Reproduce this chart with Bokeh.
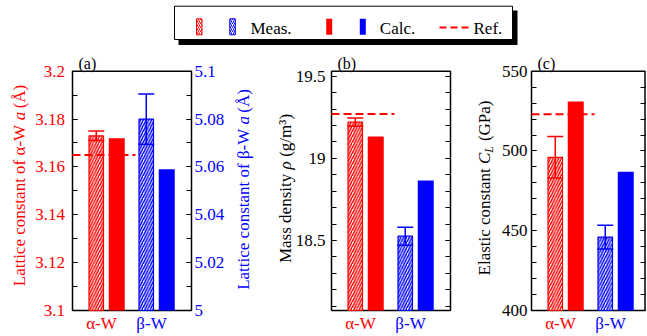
import math
from bokeh.plotting import figure
from bokeh.models import (Range1d, LinearAxis, FixedTicker, CustomJSTickFormatter, Whisker,
                          TeeHead, ColumnDataSource)
from bokeh.core.properties import value
from bokeh.embed import file_html
from bokeh.resources import INLINE

# ---------------- data ----------------
phases = ["α-W", "β-W"]
phase_colors = ["#ff0000", "#0000ff"]

lattice_meas = [3.173, 5.080]     # alpha on left axis, beta on right axis
lattice_err = [0.002, 0.0105]
lattice_calc = [3.172, 5.059]
lattice_ref = 3.165

density_meas = [19.22, 18.526]
density_err = [0.025, 0.055]
density_calc = [19.133, 18.865]
density_ref = 19.27

elastic_meas = [496, 446]
elastic_err = [13, 7.5]
elastic_calc = [531, 487]
elastic_ref = 523

lat_alpha_ticks = [3.1, 3.12, 3.14, 3.16, 3.18, 3.2]
lat_alpha_labels = ["3.1", "3.12", "3.14", "3.16", "3.18", "3.2"]
lat_beta_ticks = [5.0, 5.02, 5.04, 5.06, 5.08, 5.1]
lat_beta_labels = ["5", "5.02", "5.04", "5.06", "5.08", "5.1"]
density_ticks = [18.5, 19.0, 19.5]
density_labels = ["18.5", "19", "19.5"]
elastic_ticks = [400, 450, 500, 550]
elastic_labels = ["400", "450", "500", "550"]

legend_labels = ["Meas.", "Calc.", "Ref."]

# ---------------- style / layout ----------------
W, H = 647, 336
FONT = "Liberation Serif"
TICK_FS = "17px"
LAB_FS = 17
PX_PER_X = 50.0
X0 = -0.68
DODGE = 0.205
REF_END = 0.58
RED, BLUE = phase_colors

TIMES = {' ': .25, '(': .333, ')': .333, '/': .278, '-': .333, '.': .25, '³': .30,
         'A': .722, 'C': .667, 'E': .611, 'G': .722, 'L': .611, 'M': .889, 'P': .556,
         'W': .944, 'Å': .722, 'a': .444, 'c': .444, 'd': .5, 'e': .444, 'f': .333,
         'g': .5, 'i': .278, 'l': .278, 'm': .778, 'n': .5, 'o': .5, 's': .389,
         't': .278, 'y': .5, 'α': .55, 'β': .5, 'ρ': .5}


def tw(s, size):
    return sum(TIMES.get(ch, .5) for ch in s) * size


p = figure(width=W, height=H, x_range=Range1d(0, W), y_range=Range1d(H, 0),
           x_axis_type=None, y_axis_type=None, output_backend="svg", toolbar_location=None,
           min_border=0, outline_line_color=None)
p.background_fill_color = "white"
p.border_fill_color = "white"
p.xgrid.visible = False
p.ygrid.visible = False


def rot_label(cx, cy, pieces, color):
    total = sum(tw(t, s) for t, it, s, dx in pieces)
    y = cy + total / 2
    for t, it, s, dx in pieces:
        lead = len(t) - len(t.lstrip())
        p.text(x=[cx + dx], y=[y - lead * .25 * s], text=[t.strip()], angle=math.pi / 2,
               text_align="left", text_baseline="middle", text_font=value(FONT),
               text_font_style=value("italic" if it else "normal"),
               text_font_size=value(f"{s}px"), text_color=color)
        y -= tw(t, s)


def make_ranges(key, px_left, py_top, py_bot, v_top, v_bot, extra=None):
    p.extra_x_ranges[key + "x"] = Range1d(X0 - px_left / PX_PER_X, X0 + (W - px_left) / PX_PER_X)
    upp = (v_top - v_bot) / (py_bot - py_top)
    p.extra_y_ranges[key + "y"] = Range1d(v_bot - (H - py_bot) * upp, v_top + py_top * upp)
    if extra:
        t2, b2 = extra
        upp2 = (t2 - b2) / (py_bot - py_top)
        p.extra_y_ranges[key + "y2"] = Range1d(b2 - (H - py_bot) * upp2, t2 + py_top * upp2)


def yaxis(key, yname, side, loc, ticks, minor, labels=None, color="black", standoff=0):
    # ticks drawn by a Bokeh axis (pointing inwards); labels drawn as serif text at the ticks
    ax = LinearAxis(x_range_name=key + "x", y_range_name=yname, fixed_location=loc,
                    ticker=FixedTicker(ticks=ticks, minor_ticks=minor),
                    formatter=CustomJSTickFormatter(code="return ''"),
                    axis_line_color=None, major_tick_in=5, major_tick_out=0,
                    minor_tick_in=5, minor_tick_out=0,
                    major_tick_line_color="black", minor_tick_line_color="black",
                    major_tick_line_width=1, minor_tick_line_width=1,
                    major_label_standoff=0)
    p.add_layout(ax, side)
    if labels is not None:
        left = side == "left"
        p.text(x=[loc] * len(ticks), y=ticks, text=labels,
               x_offset=-standoff if left else standoff,
               text_align="right" if left else "left", text_baseline="middle",
               text_font=value(FONT), text_font_size=value(TICK_FS), text_color=color,
               x_range_name=key + "x", y_range_name=yname)


def draw_panel(key, frame_w, meas, err, calc, ynames, bottoms, ref, v_top, v_bot, letter):
    xn = key + "x"
    x1 = X0 + frame_w / PX_PER_X
    # frame box
    p.quad(left=[X0], right=[x1], bottom=[v_bot], top=[v_top], fill_color=None,
           line_color="black", line_width=1.5, x_range_name=xn, y_range_name=key + "y")
    for i, ph in enumerate(phases):
        c = phase_colors[i]
        yn = ynames[i]
        bot = bottoms[i]
        p.vbar(x=[i - DODGE], top=[meas[i]], bottom=bot, width=0.29, fill_color="white",
               line_color=c, line_width=1.2, hatch_pattern="/", hatch_color=c, hatch_scale=5.5,
               hatch_weight=1.5, x_range_name=xn, y_range_name=yn)
        p.vbar(x=[i + DODGE], top=[calc[i]], bottom=bot, width=0.32, fill_color=c,
               line_color=None, x_range_name=xn, y_range_name=yn)
        src = ColumnDataSource(dict(x=[i - DODGE], lo=[meas[i] - err[i]], hi=[meas[i] + err[i]]))
        w = Whisker(source=src, base="x", lower="lo", upper="hi", dimension="height",
                    line_color=c, line_width=1.5, level="overlay",
                    upper_head=TeeHead(size=16, line_color=c, line_width=1.5),
                    lower_head=TeeHead(size=16, line_color=c, line_width=1.5),
                    x_range_name=xn, y_range_name=yn)
        p.add_layout(w)
        # category label under the frame
        p.text(x=[i - 0.1], y=[v_bot], text=[ph], y_offset=13, text_align="center",
               text_baseline="middle", text_font=value(FONT), text_font_size=value(TICK_FS),
               text_color=c, x_range_name=xn, y_range_name=key + "y")
    # reference line
    p.segment(x0=[X0], y0=[ref], x1=[REF_END], y1=[ref], line_color=RED, line_width=2,
              line_dash="8 4", x_range_name=xn, y_range_name=key + "y")
    # panel letter
    p.text(x=[X0], y=[v_top], text=[letter], x_offset=6, y_offset=-8, text_align="left",
           text_baseline="alphabetic", text_font=value(FONT), text_font_size=value("16px"),
           text_color="black", x_range_name=xn, y_range_name=key + "y")


# ---------------- panel (a) ----------------
make_ranges("a", 72, 70.7, 310, 3.2, 3.1, extra=(5.1, 5.0))
yaxis("a", "ay", "left", X0, lat_alpha_ticks, [3.1 + k * 0.01 for k in range(11)],
      lat_alpha_labels, RED, 7.5)
yaxis("a", "ay2", "right", X0 + 119 / PX_PER_X, lat_beta_ticks,
      [5.0 + k * 0.01 for k in range(11)], lat_beta_labels, BLUE, 3)
draw_panel("a", 119, lattice_meas, lattice_err, lattice_calc, ["ay", "ay2"],
           [lat_alpha_ticks[0], lat_beta_ticks[0]], lattice_ref, 3.2, 3.1, "(a)")
rot_label(18.5, 185, [("Lattice constant of α-W ", False, LAB_FS, 0), ("a", True, LAB_FS, 0),
                      (" (Å)", False, LAB_FS, 0)], RED)
rot_label(243, 189, [("Lattice constant of β-W ", False, LAB_FS, 0), ("a", True, LAB_FS, 0),
                     (" (Å)", False, LAB_FS, 0)], BLUE)

# ---------------- panel (b) ----------------
make_ranges("b", 331, 70.7, 310, 19.53, 18.074)
b_minor = [round(18.1 + k * 0.1, 2) for k in range(15)]
yaxis("b", "by", "left", X0, density_ticks, b_minor, density_labels, "black", 6)
yaxis("b", "by", "right", X0 + 119 / PX_PER_X, density_ticks, b_minor)
draw_panel("b", 119, density_meas, density_err, density_calc, ["by", "by"],
           [18.074, 18.074], density_ref, 19.53, 18.074, "(b)")
rot_label(285, 188, [("Mass density ", False, LAB_FS, 0), ("ρ", True, LAB_FS, 0),
                     (" (g/m³)", False, LAB_FS, 0)], "black")

# ---------------- panel (c) ----------------
make_ranges("c", 531, 70.7, 310, 550, 400)
c_minor = [400 + k * 10 for k in range(16)]
yaxis("c", "cy", "left", X0, elastic_ticks, c_minor, elastic_labels, "black", 4)
yaxis("c", "cy", "right", X0 + 113.5 / PX_PER_X, elastic_ticks, c_minor)
draw_panel("c", 113.5, elastic_meas, elastic_err, elastic_calc, ["cy", "cy"],
           [elastic_ticks[0], elastic_ticks[0]], elastic_ref, 550, 400, "(c)")
rot_label(484, 187.5, [("Elastic constant ", False, LAB_FS, 0), ("C", True, LAB_FS, 0),
                       ("L", True, 12, 4), (" (GPa)", False, LAB_FS, 0)], "black")

# ---------------- legend ----------------
p.quad(left=[178], right=[517], top=[10], bottom=[44.5], fill_color="black", line_color=None)
p.quad(left=[174], right=[512], top=[5.7], bottom=[39], fill_color="white", line_color="black",
       line_width=1)
for lx, c in [(196, RED), (229.3, BLUE)]:
    p.quad(left=[lx], right=[lx + 5.5], top=[18.3], bottom=[34.3], fill_color="white",
           line_color=c, line_width=1, hatch_pattern="/", hatch_color=c, hatch_scale=4,
           hatch_weight=1)
for lx, c in [(325.7, RED), (359.3, BLUE)]:
    p.quad(left=[lx], right=[lx + 6], top=[18.3], bottom=[34.3], fill_color=c, line_color=None)
p.segment(x0=[439], y0=[27], x1=[470], y1=[27], line_color=RED, line_width=2, line_dash="7 4")
p.text(x=[250, 379.3, 473], y=[27.5, 27.5, 27.5], text=legend_labels, text_font=value(FONT),
       text_font_size=value("17px"), text_baseline="middle", text_align="left", text_color="black")

with open("out.html", "w") as f:
    f.write(file_html(p, INLINE))
